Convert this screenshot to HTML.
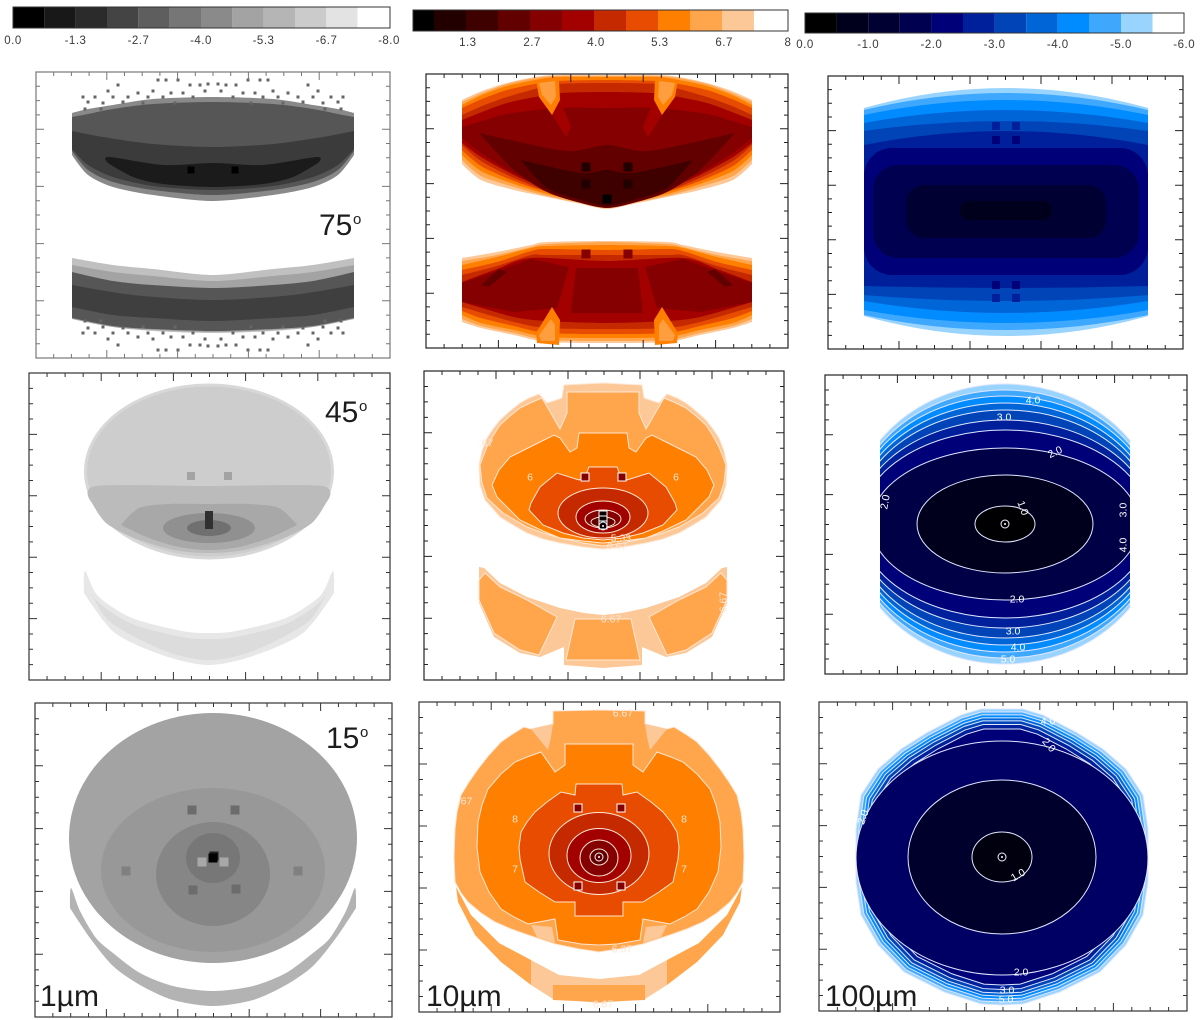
<!DOCTYPE html>
<html lang="en">
<head>
<meta charset="utf-8">
<title>Dust torus model images at 1, 10 and 100 micron</title>
<style>
html,body{margin:0;padding:0;background:#fff;}
svg{display:block;font-family:"Liberation Sans",sans-serif;}
.big{font-size:30px;fill:#1c1c1c;}
.sup{font-size:15px;fill:#1c1c1c;}
</style>
</head>
<body>
<svg id="root" width="1200" height="1020" viewBox="0 0 1200 1020">
<rect width="1200" height="1020" fill="#fff"/>
<g id="bars"></g>
<g id="panels"></g>
<g>
<text class="big" x="319" y="235">75</text>
<text class="sup" x="353" y="224">o</text>
<text class="big" x="325" y="422">45</text>
<text class="sup" x="359" y="411">o</text>
<text class="big" x="326" y="748">15</text>
<text class="sup" x="360" y="737">o</text>
<text class="big" x="40" y="1006">1µm</text>
<text class="big" x="426" y="1006">10µm</text>
<text class="big" x="825" y="1006">100µm</text>
</g>
</svg>
<script>
/* ---------- colour scales ---------- */
const grayColors = ['#000000','#181818','#2b2b2b','#444444','#5e5e5e','#767676','#8a8a8a','#a3a3a3','#b5b5b5','#cbcbcb','#e3e3e3','#ffffff'];
const redColors  = ['#000000','#220000','#3f0000','#620000','#850000','#a30000','#c52900','#e84c00','#ff7f00','#ffa64d','#fdc898','#ffffff'];
const blueColors = ['#000000','#00001c','#000033','#000050','#000078','#00209b','#0044b8','#0066d8','#008cff','#3ea8ff','#99d4ff','#ffffff'];

/* ---------- colorbar tick labels and band levels ---------- */
const grayTickValues = [0,-1.33,-2.67,-4,-5.33,-6.67,-8];
const grayTickLabels = ['0.0','-1.3','-2.7','-4.0','-5.3','-6.7','-8.0'];
const redTickValues  = [1.33,2.67,4,5.33,6.67,8];
const redTickLabels  = ['1.3','2.7','4.0','5.3','6.7','8'];
const blueTickValues = [0,-1,-2,-3,-4,-5,-6];
const blueTickLabels = ['0.0','-1.0','-2.0','-3.0','-4.0','-5.0','-6.0'];

/* ---------- tick positions in tenths of the half-axis ---------- */
const majorTicks = [-6,-2,2,6];
const minorTicks = [-9,-8,-7,-5,-4,-3,-1,0,1,3,4,5,7,8,9];

/* ---------- 1 micron, 75 deg ---------- */
const g75UpperLevels = [4.3,2.8,2.1,1.1];
const g75UpperOutlines = [
 [[0,118],[60,116],[100,110],[125,106],[141,102],[141,60],[125,40],[100,28],[60,20],[0,14]],
 [[0,113],[60,111],[100,106],[125,101],[141,98],[141,64],[125,45],[100,33],[60,25],[0,20]],
 [[0,68],[60,71],[110,78],[141,84],[141,66],[125,50],[100,38],[60,29],[0,25]],
 [[0,52],[50,50],[104,58],[105,52],[80,38],[50,31],[0,28]]
];
const g75LowerLevels = [6,5,2.8,2.2];
const g75LowerOutlines = [
 [[0,-60],[60,-54],[100,-50],[141,-43],[141,-104],[100,-112],[60,-116],[0,-118]],
 [[0,-66],[60,-61],[100,-57],[141,-50],[141,-104],[100,-112],[60,-115],[0,-117]],
 [[0,-73],[60,-70],[100,-66],[141,-57],[141,-103],[100,-111],[60,-114],[0,-116]],
 [[0,-85],[80,-80],[141,-70],[141,-92],[100,-100],[60,-103],[0,-106]]
];
const g75SpeckX = [13,23,35,47,55,95,100,118,125,110,75,65,42,30,8,20,50,85,70,38,128,112,90,60,5,130,105];
const g75SpeckY = [130,130,135,135,135,130,118,118,113,112,122,118,122,122,124,118,118,118,112,112,106,106,113,124,131,118,124];
const g75SquareX = [-22,22];
const g75SquareY = [45,45];
const g75SquareV = [0.2,0.2];

/* ---------- 1 micron, 45 deg ---------- */
const g45BodyLevels = [6.7,6.4];
const g45BodyRx = [125,122];
const g45BodyRy = [88,85];
const g45BodyCy = [51.5,51.5];
const g45InnerLevels = [5.85,5.2];
const g45InnerOutlines = [
 [[0,37],[113,37],[117,20],[103,0],[75,-15],[35,-27],[0,-30]],
 [[0,19],[40,19],[70,15],[88,-2],[60,-15],[30,-24],[0,-27]]
];
const g45CoreLevels = [4.5,3.5];
const g45CoreRx = [46,22];
const g45CoreRy = [15,8];
const g45CoreCy = [-5,-5];
const g45CrescentLevels = [7.1,6.8];
const g45CrescentOutlines = [
 [[0,-110],[27,-108],[77,-95],[111,-73],[124,-48],[125,-70],[94,-110],[44,-133],[0,-142]],
 [[0,-116],[27,-114],[77,-101],[111,-79],[122,-60],[100,-98],[44,-128],[0,-137]]
];
const g45SquareX = [-18,19,0,0,0];
const g45SquareY = [47,47,8,3,-2];
const g45SquareV = [5,5,1.8,1.8,1.8];

/* ---------- 1 micron, 15 deg ---------- */
const g15CrescentLevels = [5.6];
const g15CrescentOutlines = [
 [[0,-133],[40,-128],[73,-115],[100,-95],[117,-80],[133,-53],[142,-30],[143,-50],[123,-80],[100,-108],[73,-127],[40,-142],[0,-148]]
];
const g15BodyLevels = [5.0,4.7,4.2,3.7];
const g15BodyRx = [144,112,57,27];
const g15BodyRy = [125,82,52,25];
const g15BodyCy = [20,-12,-16,0];
const g15SquareX = [-21,22,-20,23,-87,85,-11,11,1,0];
const g15SquareY = [48,48,-32,-31,-13,-13,-4,-4,2,0];
const g15SquareV = [3.4,3.4,3.4,3.4,4.0,4.0,5.2,5.2,1.3,0.1];

/* ---------- 10 micron, 75 deg ---------- */
const r75UpperLevels = [7,6.33,5.67,5,4.33,3.67,3,2.33,1.67];
const r75UpperOutlines = [
 [[0,136],[50,136],[72,134],[100,128],[125,120],[145,111],[145,47],[126,31],[93,21],[60,14],[26,7],[0,2]],
 [[0,135],[50,135],[72,133],[100,127],[125,118],[145,109],[145,51],[126,35],[93,24],[60,15],[26,8],[0,3]],
 [[0,134],[50,134],[72,131],[100,125],[125,116],[145,106],[145,56],[126,40],[93,27],[60,17],[26,9],[0,3]],
 [[0,131],[50,130],[72,127],[100,121],[125,112],[145,103],[145,61],[126,45],[93,30],[60,19],[26,10],[0,4]],
 [[0,128],[50,127],[72,122],[100,114],[125,105],[145,96],[145,66],[126,50],[93,33],[60,20],[26,11],[0,5]],
 [[0,119],[46,118],[72,114],[100,108],[125,99],[145,91],[145,68],[126,54],[93,36],[60,22],[26,11],[0,5]],
 [[0,103],[50,103],[100,97],[125,90],[145,84],[145,73],[126,58],[93,38],[60,24],[26,11],[0,6]],
 [[0,66],[33,60],[60,63],[128,78],[93,41],[60,19],[26,8],[0,3]],
 [[0,41],[26,38],[86,51],[60,23],[26,11],[0,5]]
];
const r75WedgeLevels = [3.67,5.67,6.2];
const r75WedgeOutlines = [
 [[55,96],[41,74],[36,84],[47,111]],
 [[48,131],[71,131],[68,114],[55,96],[47,111]],
 [[52,130],[68,128],[65,116],[56,106],[51,114]]
];
const r75LowerLevels = [7,6.33,5.67,5,4.33,3.67];
const r75LowerOutlines = [
 [[0,-30],[60,-31],[76,-34],[110,-41],[145,-47],[145,-111],[126,-117],[93,-124],[60,-131],[0,-132]],
 [[0,-31],[60,-33],[76,-36],[110,-44],[145,-50],[145,-108],[126,-115],[93,-122],[60,-129],[0,-130]],
 [[0,-34],[60,-35],[76,-37],[110,-46],[145,-54],[145,-104],[126,-112],[93,-119],[60,-126],[0,-127]],
 [[0,-39],[60,-38],[76,-40],[110,-51],[145,-59],[145,-100],[126,-107],[93,-115],[60,-122],[0,-123]],
 [[0,-44],[60,-44],[76,-44],[110,-55],[145,-64],[145,-96],[93,-111],[60,-117],[0,-118]],
 [[0,-50],[76,-47],[110,-58],[145,-71],[145,-91],[93,-106],[60,-110],[0,-112]]
];
const r75LobeLevels = [3,2.33,5.67,6.2];
const r75LobeOutlines = [
 [[38,-56],[76,-48],[110,-60],[145,-72],[145,-91],[93,-101],[50,-97]],
 [[100,-61],[108,-58],[126,-74],[118,-76]],
 [[55,-96],[71,-122],[70,-132],[48,-134],[47,-109]],
 [[56,-108],[68,-124],[66,-130],[52,-130],[52,-114]]
];
const r75CentreLevels = [3];
const r75CentreOutlines = [[[0,-57],[31,-57],[36,-102],[0,-102]]];
const r75SquareX = [-21,21,-21,21,0,-21,21];
const r75SquareY = [44,44,27,27,12,-43,-43];
const r75SquareV = [1,1,1,1,0.2,3,3];

/* ---------- 10 micron, 45 deg ---------- */
const r45LowerBaseLevels = [7];
const r45LowerBase = [[[0,-90],[19,-88],[43,-83],[76,-72],[103,-58],[119,-43],[124,-42],[124,-78],[109,-112],[83,-128],[63,-132],[39,-122],[39,-140],[0,-143]]];
const r45LowerCentreLevels = [6.33];
const r45LowerCentre = [[[0,-94],[28,-94],[37,-135],[0,-135]]];
const r45LowerWingLevels = [6.33];
const r45LowerWing = [[[46,-92],[76,-75],[103,-62],[118,-48],[124,-55],[124,-75],[109,-108],[83,-125],[64,-130]]];
const r45UpperLevels = [7,6.33,5.67,5];
const r45UpperOutlines = [
 [[0,142],[39,140],[41,127],[56,122],[64,131],[74,127],[83,122],[93,114],[103,105],[110,96],[116,87],[121,74],[124,60],[123,40],[118,25],[103,8],[90,0],[76,-8],[60,-14],[43,-18],[20,-22],[0,-24]],
 [[0,133],[36,133],[36,112],[43,96],[61,127],[73,122],[83,117],[93,109],[103,100],[110,89],[116,78],[120,68],[123,60],[121,42],[116,27],[100,12],[88,5],[76,-2],[60,-8],[43,-13],[20,-18],[0,-21]],
 [[0,92],[24,92],[26,77],[33,73],[43,87],[49,90],[69,80],[93,68],[104,55],[111,40],[106,28],[83,5],[60,-6],[43,-13],[20,-16],[0,-18]],
 [[0,58],[14,58],[18,48],[24,45],[46,52],[63,38],[72,22],[74,15],[60,0],[40,-8],[20,-13],[0,-15]]
];
const r45CoreLevels = [4.33,3.67,3,2.33];
const r45CoreRx = [45,27,18,12];
const r45CoreRy = [25,16,9,5];
const r45CoreCy = [12,8,6,3];
const r45SquareX = [-18,19,0,0,0];
const r45SquareY = [48,48,10,5,0];
const r45SquareV = [3,3,0.5,0.5,0.5];
const r45LabelText = ['6.67','5.33','6.67','.67','6.67','6','6'];
const r45LabelX = [8,18,14,-117,120,-73,73];
const r45LabelY = [-94,-13,-21,82,-77,48,48];
const r45LabelAngle = [0,0,0,0,-90,0,0];

/* ---------- 10 micron, 15 deg ---------- */
const r15LowerLevels = [7,6.33];
const r15LowerOutlines = [
 [[0,-122],[40,-118],[68,-103],[68,-128],[46,-142],[0,-146]],
 [[0,-128],[46,-128],[46,-143],[0,-145]]
];
const r15WingLevels = [6.33];
const r15WingOutlines = [[[68,-103],[100,-86],[128,-58],[143,-30],[141,-45],[124,-78],[98,-105],[68,-128]]];
const r15BodyLevels = [6.33,5.67,5];
const r15BodyOutlines = [
 [[0,147],[46,146],[46,133],[68,128],[75,130],[88,122],[98,115],[110,102],[121,88],[130,75],[138,62],[142,45],[144,28],[145,0],[144,-25],[138,-36],[131,-45],[118,-56],[104,-65],[88,-72],[71,-78],[44,-87],[20,-92],[0,-95]],
 [[0,113],[34,113],[34,92],[44,85],[58,105],[72,100],[84,95],[98,83],[111,68],[117,52],[121,35],[122,10],[119,-15],[110,-35],[98,-52],[85,-60],[71,-67],[44,-62],[41,-83],[18,-87],[0,-88]],
 [[0,73],[23,73],[24,62],[38,65],[52,55],[64,45],[72,35],[78,25],[80,10],[79,-2],[74,-25],[60,-35],[44,-45],[24,-45],[24,-59],[0,-59]]
];
const r15WedgeLevels = [7,7];
const r15WedgeOutlines = [
 [[46,133],[68,128],[51,107],[48,120]],
 [[47,-70],[68,-68],[62,-80],[44,-86]]
];
const r15CoreLevels = [4.33,3.67,3,2.33];
const r15CoreRx = [50,32,19,9];
const r15CoreRy = [41,27,18,8];
const r15CoreCy = [3.5,1.5,-1,0];
const r15SquareX = [-21,22,-21,22];
const r15SquareY = [49,49,-29,-29];
const r15SquareV = [3,3,3,3];
const r15LabelText = ['6.67','.67','6.67','6.67','8','8','7','7'];
const r15LabelX = [24,-134,23,4,-84,85,-84,85];
const r15LabelY = [144,56,-92,-147,38,38,-12,-12];
const r15LabelAngle = [0,0,0,0,0,0,0,0];

/* ---------- 100 micron, 75 deg ---------- */
const b75BandLevels = [5.25,4.75,4.25,3.75,3.25,2.75];
const b75BandHalfWidth = [142,142,142,142,142,142];
const b75BandTopCentre = [125,120,113,103,92,82];
const b75BandTopSide = [105,103,98,90,82,68];
const b75BandBottomCentre = [-123,-117,-110,-100,-88,-75];
const b75BandBottomSide = [-103,-102,-97,-88,-82,-73];
const b75BoxLevels = [2.25,1.75,1.25,0.75];
const b75BoxHalfWidth = [142,133,100,46];
const b75BoxTop = [65,48,28,12];
const b75BoxBottom = [-62,-45,-25,-7];
const b75BoxCorner = [28,25,18,9];
const b75SquareX = [-10,10,-10,10,-10,10,-10,10];
const b75SquareY = [87,87,73,73,-72,-72,-85,-85];
const b75SquareV = [2.75,2.75,2.25,2.25,2.25,2.25,2.75,2.75];

/* ---------- 100 micron, 45 deg ---------- */
const b45Levels = [5.25,4.75,4.25,3.75,3.25,2.75,2.25,1.6,0.75,0.3];
const b45Rx = [156,155,154,152,150,148,145,134,88,30];
const b45Ry = [140,134,128,121,114,104,94,76,49,18];
const b45Cy = [0,0,0,0,0,0,0,0,0,0];
const b45RingX = [0];
const b45RingY = [0];
const b45LabelText = ['4.0','3.0','2.0','2.0','3.0','4.0','5.0','1.0','2.0','3.0','4.0'];
const b45LabelX = [28,-1,50,12,8,13,3,18,-120,118,118];
const b45LabelY = [124,107,72,-75,-107,-123,-135,16,22,14,-21];
const b45LabelAngle = [0,0,-25,0,0,0,0,70,-80,-90,-90];

/* ---------- 100 micron, 15 deg ---------- */
const b15Edge = [[0,148],[21,148],[41,142],[74,125],[101,108],[124,88],[141,62],[146,28],[146,-25],[141,-58],[124,-88],[98,-115],[58,-135],[21,-147],[0,-148]];
const b15RimLevels = [5.25,4.75,4.25,3.75,3.25,2.75,2.25];
const b15RimShrink = [1,0.98,0.96,0.94,0.92,0.895,0.865];
const b15Levels = [2,1.1,0.5];
const b15Rx = [146,94,30];
const b15Ry = [117,77,25];
const b15Cy = [-1,0,0];
const b15RingX = [0];
const b15RingY = [0];
const b15LabelText = ['1.0','2.0','3.0','5.0','2.0','4.0','2.0'];
const b15LabelX = [16,19,5,4,47,46,-139];
const b15LabelY = [-18,-115,-133,-142,112,136,40];
const b15LabelAngle = [-30,0,0,0,50,0,-70];

/* ---------- drawing helpers ---------- */
const root = document.getElementById('root');
const svgNS = root.namespaceURI;
const panelsRoot = document.getElementById('panels');
const barsRoot = document.getElementById('bars');

function hexToRgb(h){ return [1,3,5].map(i => parseInt(h.substr(i,2),16)); }
function shade(colors, step, value){
  const t = Math.max(0, Math.min(colors.length-1, Math.abs(value)/step - 0.5));
  const i = Math.floor(t), j = Math.min(colors.length-1, i+1), f = t-i;
  const a = hexToRgb(colors[i]), b = hexToRgb(colors[j]);
  return 'rgb(' + a.map((c,k) => Math.round(c+(b[k]-c)*f)).join(',') + ')';
}
function grayScale(v){ return shade(grayColors, 8/12, v); }
function redScale(v){ return shade(redColors, 8/12, v); }
function blueScale(v){ return shade(blueColors, 0.5, v); }

function makePanel(name, left, right, top, bottom, ox, oy, frame){
  const g = document.createElementNS(svgNS,'g');
  
  
  panelsRoot.appendChild(g);
  return {
    g, name, left, right, top, bottom, frame,
    x: v => ox + v,
    y: v => oy - v,
    xTick: t => (left+right)/2 + t/10*(right-left)/2,
    yTick: t => (top+bottom)/2 - t/10*(bottom-top)/2
  };
}
function setShape(el, fill, line, width){
  el.setAttribute('fill', fill);
  if(line){ el.setAttribute('stroke', line); el.setAttribute('stroke-width', width || 1); }
}
function mirroredPoints(p, half){
  const right = half.map(q => [p.x(q[0]), p.y(q[1])]);
  const left = half.slice().reverse().filter(q => q[0] !== 0).map(q => [p.x(-q[0]), p.y(q[1])]);
  return right.concat(left);
}
function smoothClosedPath(P){
  const n = P.length, k = 0.14;
  const xs = P.map(q => q[0]);
  const lo = Math.min.apply(null, xs), hi = Math.max.apply(null, xs);
  const tangent = (a, b, c) => (b[0] === lo || b[0] === hi) ? [0,0] : [(c[0]-a[0])*k, (c[1]-a[1])*k];
  let d = 'M' + P[0][0] + ' ' + P[0][1];
  for(let i = 0; i < n; i++){
    const a = P[(i-1+n)%n], b = P[i], c = P[(i+1)%n], e = P[(i+2)%n];
    const t1 = tangent(a, b, c), t2 = tangent(b, c, e);
    d += 'C' + (b[0]+t1[0]) + ' ' + (b[1]+t1[1]) + ' ' + (c[0]-t2[0]) + ' ' + (c[1]-t2[1]) + ' ' + c[0] + ' ' + c[1];
  }
  return d + 'Z';
}
function drawOutlines(p, levels, outlines, scale, line){
  levels.forEach((v,i) => {
    const el = document.createElementNS(svgNS,'polygon');
    el.setAttribute('points', mirroredPoints(p, outlines[i]).map(q => q.join(',')).join(' '));
    setShape(el, scale(v), line);
    
    
    p.g.appendChild(el);
  });
}
function drawSmoothOutlines(p, levels, outlines, scale){
  levels.forEach((v,i) => {
    const el = document.createElementNS(svgNS,'path');
    el.setAttribute('d', smoothClosedPath(mirroredPoints(p, outlines[i])));
    setShape(el, scale(v));
    
    
    p.g.appendChild(el);
  });
}
function drawRims(p, levels, shrink, edge, scale, line){
  levels.forEach((v,i) => {
    const half = edge.map(q => [q[0]*shrink[i], q[1]*shrink[i]]);
    const el = document.createElementNS(svgNS,'polygon');
    el.setAttribute('points', mirroredPoints(p, half).map(q => q.join(',')).join(' '));
    setShape(el, scale(v), line);
    
    
    p.g.appendChild(el);
  });
}
function drawTwins(p, levels, outlines, scale, line){
  levels.forEach((v,i) => {
    [1,-1].forEach(sign => {
      const el = document.createElementNS(svgNS,'polygon');
      el.setAttribute('points', outlines[i].map(q => p.x(sign*q[0]) + ',' + p.y(q[1])).join(' '));
      setShape(el, scale(v), line);
      
      
      p.g.appendChild(el);
    });
  });
}
function drawEllipses(p, levels, rx, ry, cy, scale, line, clipId){
  levels.forEach((v,i) => {
    const el = document.createElementNS(svgNS,'ellipse');
    el.setAttribute('cx', p.x(0));
    el.setAttribute('cy', p.y(cy[i]));
    el.setAttribute('rx', rx[i]);
    el.setAttribute('ry', ry[i]);
    setShape(el, scale(v), line);
    if(clipId){ el.setAttribute('clip-path', 'url(#' + clipId + ')'); }
    
    
    p.g.appendChild(el);
  });
}
function drawSquares(p, xs, ys, values, size, scale, line){
  values.forEach((v,i) => {
    const el = document.createElementNS(svgNS,'rect');
    el.setAttribute('x', p.x(xs[i]) - size/2);
    el.setAttribute('y', p.y(ys[i]) - size/2);
    el.setAttribute('width', size);
    el.setAttribute('height', size);
    setShape(el, scale(v), line);
    
    
    p.g.appendChild(el);
  });
}
function drawSpecks(p, xs, ys, value, scale){
  xs.forEach((vx,i) => {
    [[1,1],[-1,1],[1,-1],[-1,-1]].forEach(s => {
      const el = document.createElementNS(svgNS,'rect');
      el.setAttribute('x', p.x(s[0]*vx) - 1.5);
      el.setAttribute('y', p.y(s[1]*ys[i]) - 1.5);
      el.setAttribute('width', 3);
      el.setAttribute('height', 3);
      el.setAttribute('fill', scale(value));
      
      
      p.g.appendChild(el);
    });
  });
}
function drawLenses(p, levels, hw, tc, ts, bc, bs, scale){
  levels.forEach((v,i) => {
    const w = hw[i];
    const el = document.createElementNS(svgNS,'path');
    const d = 'M' + p.x(-w) + ' ' + p.y(ts[i]) +
      ' Q' + p.x(0) + ' ' + p.y(2*tc[i]-ts[i]) + ' ' + p.x(w) + ' ' + p.y(ts[i]) +
      ' L' + p.x(w) + ' ' + p.y(bs[i]) +
      ' Q' + p.x(0) + ' ' + p.y(2*bc[i]-bs[i]) + ' ' + p.x(-w) + ' ' + p.y(bs[i]) + ' Z';
    el.setAttribute('d', d);
    setShape(el, scale(v));
    
    
    p.g.appendChild(el);
  });
}
function drawBoxes(p, levels, hw, top, bottom, corner, scale){
  levels.forEach((v,i) => {
    const el = document.createElementNS(svgNS,'rect');
    el.setAttribute('x', p.x(-hw[i]));
    el.setAttribute('y', p.y(top[i]));
    el.setAttribute('width', 2*hw[i]);
    el.setAttribute('height', top[i]-bottom[i]);
    el.setAttribute('rx', corner[i]);
    setShape(el, scale(v));
    
    
    p.g.appendChild(el);
  });
}
function drawRings(p, xs, ys){
  xs.forEach((vx,i) => {
    const ring = document.createElementNS(svgNS,'circle');
    ring.setAttribute('cx', p.x(vx));
    ring.setAttribute('cy', p.y(ys[i]));
    ring.setAttribute('r', 4);
    ring.setAttribute('fill', 'none');
    ring.setAttribute('stroke', '#f0f0ff');
    
    
    p.g.appendChild(ring);
    const dot = document.createElementNS(svgNS,'circle');
    dot.setAttribute('cx', p.x(vx));
    dot.setAttribute('cy', p.y(ys[i]));
    dot.setAttribute('r', 1);
    dot.setAttribute('fill', '#ffffff');
    
    
    p.g.appendChild(dot);
  });
}
function drawLabels(p, texts, xs, ys, angles, color){
  texts.forEach((t,i) => {
    const el = document.createElementNS(svgNS,'text');
    el.setAttribute('x', p.x(xs[i]));
    el.setAttribute('y', p.y(ys[i]) + 3.5);
    el.setAttribute('text-anchor', 'middle');
    el.setAttribute('font-size', '10.5');
    el.setAttribute('fill', color);
    if(angles[i]){ el.setAttribute('transform', 'rotate(' + angles[i] + ' ' + p.x(xs[i]) + ' ' + p.y(ys[i]) + ')'); }
    el.textContent = t;
    
    
    p.g.appendChild(el);
  });
}
function addWidthClip(id, p, halfW){
  const cp = document.createElementNS(svgNS,'clipPath');
  cp.setAttribute('id', id);
  const shape = document.createElementNS(svgNS,'rect');
  shape.setAttribute('x', p.x(-halfW));
  shape.setAttribute('y', p.y(200));
  shape.setAttribute('width', 2*halfW);
  shape.setAttribute('height', 400);
  cp.appendChild(shape);
  p.g.appendChild(cp);
}
function addOutlineClip(id, p, half){
  const cp = document.createElementNS(svgNS,'clipPath');
  cp.setAttribute('id', id);
  const shape = document.createElementNS(svgNS,'polygon');
  shape.setAttribute('points', mirroredPoints(p, half).map(q => q.join(',')).join(' '));
  cp.appendChild(shape);
  p.g.appendChild(cp);
}
function drawFrame(p){
  const r = document.createElementNS(svgNS,'rect');
  r.setAttribute('x', p.left);
  r.setAttribute('y', p.top);
  r.setAttribute('width', p.right-p.left);
  r.setAttribute('height', p.bottom-p.top);
  r.setAttribute('fill', 'none');
  r.setAttribute('stroke', p.frame);
  r.setAttribute('stroke-width', '1.2');
  
  
  p.g.appendChild(r);
  const ticks = document.createElementNS(svgNS,'path');
  let d = '';
  [[majorTicks,8],[minorTicks,4]].forEach(set => {
    set[0].forEach(t => {
      const tx = p.xTick(t), ty = p.yTick(t), len = set[1];
      d += 'M' + tx + ' ' + p.top + 'v' + len + 'M' + tx + ' ' + p.bottom + 'v' + (-len);
      d += 'M' + p.left + ' ' + ty + 'h' + len + 'M' + p.right + ' ' + ty + 'h' + (-len);
    });
  });
  ticks.setAttribute('d', d);
  ticks.setAttribute('stroke', p.frame);
  ticks.setAttribute('fill', 'none');
  
  
  p.g.appendChild(ticks);
}
function drawBar(name, colors, barLeft, barRight, top, bottom, origin, perUnit, step, tickValues, tickLabels, baseline, labelShift){
  const g = document.createElementNS(svgNS,'g');
  
  
  barsRoot.appendChild(g);
  const bx = v => origin + perUnit*Math.abs(v);
  colors.forEach((c,i) => {
    const a = Math.max(barLeft, bx(i*step)), b = Math.min(barRight, bx((i+1)*step));
    const r = document.createElementNS(svgNS,'rect');
    r.setAttribute('x', a);
    r.setAttribute('y', top);
    r.setAttribute('width', b-a);
    r.setAttribute('height', bottom-top);
    r.setAttribute('fill', c);
    
    
    g.appendChild(r);
  });
  const box = document.createElementNS(svgNS,'rect');
  box.setAttribute('x', barLeft);
  box.setAttribute('y', top);
  box.setAttribute('width', barRight-barLeft);
  box.setAttribute('height', bottom-top);
  box.setAttribute('fill', 'none');
  box.setAttribute('stroke', '#333');
  
  
  g.appendChild(box);
  tickValues.forEach((v,i) => {
    const t = document.createElementNS(svgNS,'text');
    t.setAttribute('x', bx(v) + labelShift);
    t.setAttribute('y', baseline);
    t.setAttribute('text-anchor', 'middle');
    t.setAttribute('font-size', '11.5');
    t.setAttribute('letter-spacing', '0.5');
    t.setAttribute('fill', '#3a3a3a');
    t.textContent = tickLabels[i];
    
    
    g.appendChild(t);
  });
}

/* ---------- colorbars ---------- */
drawBar('colorbar-1um', grayColors, 13, 390, 7, 28, 13, 47, 8/12, grayTickValues, grayTickLabels, 44, 0);
drawBar('colorbar-10um', redColors, 413, 788, 10, 31, 402, 48, 8/12, redTickValues, redTickLabels, 46, 2);
drawBar('colorbar-100um', blueColors, 805, 1184, 13, 33, 805, 63.2, 0.5, blueTickValues, blueTickLabels, 48, 0);

/* ---------- panels ---------- */
const pA1 = makePanel('panel-1um-75deg', 36, 390, 72, 358, 213, 215, '#777');
drawSmoothOutlines(pA1, g75UpperLevels, g75UpperOutlines, grayScale);
drawSmoothOutlines(pA1, g75LowerLevels, g75LowerOutlines, grayScale);
drawSpecks(pA1, g75SpeckX, g75SpeckY, 3.2, grayScale);
drawSquares(pA1, g75SquareX, g75SquareY, g75SquareV, 7, grayScale);
drawFrame(pA1);

const pB1 = makePanel('panel-10um-75deg', 426, 788, 74, 348, 607, 211, '#222');
drawSmoothOutlines(pB1, r75UpperLevels, r75UpperOutlines, redScale);
drawTwins(pB1, r75WedgeLevels, r75WedgeOutlines, redScale);
drawSmoothOutlines(pB1, r75LowerLevels, r75LowerOutlines, redScale);
drawTwins(pB1, r75LobeLevels, r75LobeOutlines, redScale);
drawOutlines(pB1, r75CentreLevels, r75CentreOutlines, redScale);
drawSquares(pB1, r75SquareX, r75SquareY, r75SquareV, 9, redScale);
drawFrame(pB1);

const pC1 = makePanel('panel-100um-75deg', 828, 1183, 76, 349, 1006, 213, '#222');
drawLenses(pC1, b75BandLevels, b75BandHalfWidth, b75BandTopCentre, b75BandTopSide, b75BandBottomCentre, b75BandBottomSide, blueScale);
drawBoxes(pC1, b75BoxLevels, b75BoxHalfWidth, b75BoxTop, b75BoxBottom, b75BoxCorner, blueScale);
drawSquares(pC1, b75SquareX, b75SquareY, b75SquareV, 8, blueScale);
drawFrame(pC1);

const pA2 = makePanel('panel-1um-45deg', 29, 390, 373, 680, 209, 523, '#333');
drawEllipses(pA2, g45BodyLevels, g45BodyRx, g45BodyRy, g45BodyCy, grayScale);
drawSmoothOutlines(pA2, g45InnerLevels, g45InnerOutlines, grayScale);
drawEllipses(pA2, g45CoreLevels, g45CoreRx, g45CoreRy, g45CoreCy, grayScale);
drawSmoothOutlines(pA2, g45CrescentLevels, g45CrescentOutlines, grayScale);
drawSquares(pA2, g45SquareX, g45SquareY, g45SquareV, 8, grayScale);
drawFrame(pA2);

const pB2 = makePanel('panel-10um-45deg', 424, 784, 371, 680, 603, 525, '#222');
drawOutlines(pB2, r45LowerBaseLevels, r45LowerBase, redScale);
drawOutlines(pB2, r45LowerCentreLevels, r45LowerCentre, redScale, '#ffe6d2');
drawTwins(pB2, r45LowerWingLevels, r45LowerWing, redScale, '#ffe6d2');
drawOutlines(pB2, r45UpperLevels, r45UpperOutlines, redScale, '#ffe6d2');
drawEllipses(pB2, r45CoreLevels, r45CoreRx, r45CoreRy, r45CoreCy, redScale, '#ffe6d2');
drawSquares(pB2, r45SquareX, r45SquareY, r45SquareV, 8, redScale, '#ffffff');
drawLabels(pB2, r45LabelText, r45LabelX, r45LabelY, r45LabelAngle, '#ffe6d2');
drawRings(pB2, [0], [-1]);
drawFrame(pB2);

const pC2 = makePanel('panel-100um-45deg', 825, 1187, 375, 674, 1005, 524, '#222');
addWidthClip('clip-c2', pC2, 125);
drawEllipses(pC2, b45Levels, b45Rx, b45Ry, b45Cy, blueScale, '#dfe6ff', 'clip-c2');
drawRings(pC2, b45RingX, b45RingY);
drawLabels(pC2, b45LabelText, b45LabelX, b45LabelY, b45LabelAngle, '#ffffff');
drawFrame(pC2);

const pA3 = makePanel('panel-1um-15deg', 35, 392, 703, 1017, 213, 858, '#333');
drawSmoothOutlines(pA3, g15CrescentLevels, g15CrescentOutlines, grayScale);
drawEllipses(pA3, g15BodyLevels, g15BodyRx, g15BodyRy, g15BodyCy, grayScale);
drawSquares(pA3, g15SquareX, g15SquareY, g15SquareV, 9, grayScale);
drawFrame(pA3);

const pB3 = makePanel('panel-10um-15deg', 419, 780, 702, 1012, 599, 857, '#333');
drawOutlines(pB3, r15LowerLevels, r15LowerOutlines, redScale);
drawTwins(pB3, r15WingLevels, r15WingOutlines, redScale);
drawOutlines(pB3, r15BodyLevels, r15BodyOutlines, redScale, '#ffe6d2');
drawTwins(pB3, r15WedgeLevels, r15WedgeOutlines, redScale);
drawEllipses(pB3, r15CoreLevels, r15CoreRx, r15CoreRy, r15CoreCy, redScale, '#ffe6d2');
drawSquares(pB3, r15SquareX, r15SquareY, r15SquareV, 8, redScale, '#ffffff');
drawLabels(pB3, r15LabelText, r15LabelX, r15LabelY, r15LabelAngle, '#ffe6d2');
drawRings(pB3, [0], [0]);
drawFrame(pB3);

const pC3 = makePanel('panel-100um-15deg', 819, 1187, 702, 1011, 1002, 857, '#333');
addOutlineClip('clip-c3', pC3, b15Edge);
drawRims(pC3, b15RimLevels, b15RimShrink, b15Edge, blueScale, '#dfe6ff');
drawEllipses(pC3, b15Levels, b15Rx, b15Ry, b15Cy, blueScale, '#dfe6ff', 'clip-c3');
drawRings(pC3, b15RingX, b15RingY);
drawLabels(pC3, b15LabelText, b15LabelX, b15LabelY, b15LabelAngle, '#ffffff');
drawFrame(pC3);
</script>
</body>
</html>
